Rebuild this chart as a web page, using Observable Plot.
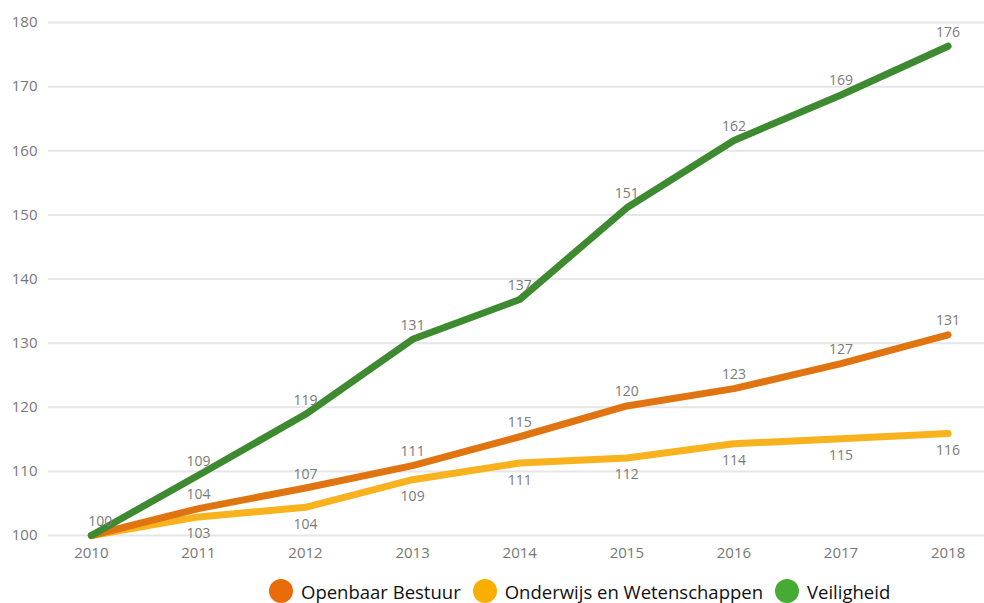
<!DOCTYPE html>
<html>
<head>
<meta charset="utf-8">
<script src="https://cdn.jsdelivr.net/npm/d3@7"></script>
<script src="https://cdn.jsdelivr.net/npm/@observablehq/plot@0.6"></script>
<style>
  body { margin: 0; background: #fff; font-family: "Open Sans", Lato, sans-serif; }
  #wrap { position: relative; width: 984px; height: 603px; }
  #legend { position: absolute; top: 578px; left: 269px; height: 26px; display: flex; align-items: center; font-size: 18.5px; color: #111; white-space: nowrap; }
  .item { display: flex; align-items: center; margin-right: 12px; }
  .dot { width: 24px; height: 24px; border-radius: 50%; margin-right: 8px; }
</style>
</head>
<body>
<div id="wrap"><div id="chart"></div><div id="legend"></div></div>
<script>
const years = [2010, 2011, 2012, 2013, 2014, 2015, 2016, 2017, 2018];
const seriesNames = ["Openbaar Bestuur", "Onderwijs en Wetenschappen", "Veiligheid"];
const openbaarBestuur = [100, 104.2, 107.4, 110.9, 115.4, 120.2, 122.9, 126.8, 131.3];
const onderwijs = [100, 102.9, 104.4, 108.7, 111.3, 112.1, 114.3, 115.1, 115.9];
const veiligheid = [100, 109.4, 118.9, 130.6, 136.8, 151.1, 161.6, 168.7, 176.3];
const lineColors = ["#e07410", "#f8b21e", "#3e8a30"];
const legendColors = ["#e96c0a", "#f9ae00", "#45ab34"];
const yTicks = [100, 110, 120, 130, 140, 150, 160, 170, 180];

const valuesBySeries = [openbaarBestuur, onderwijs, veiligheid];
const data = [];
valuesBySeries.forEach((vals, i) => {
  vals.forEach((v, j) => data.push({ series: seriesNames[i], year: years[j], value: v, idx: i }));
});
const drawOrder = [1, 0, 2];
const ordered = drawOrder.flatMap(i => data.filter(d => d.idx === i));
const fmt = d => String(Math.round(d.value));
const labelStyle = { fill: "#7a7a7a", fontSize: 14 };

const chart = Plot.plot({
  width: 984,
  height: 570,
  marginTop: 22,
  marginBottom: 35,
  marginLeft: 48,
  marginRight: 0,
  style: { fontFamily: "'Open Sans', Lato, sans-serif", fontSize: "15px", color: "#777", background: "#fff" },
  x: { domain: [2009.6, 2018.34], ticks: years, tickFormat: d => String(d), tickSize: 0, tickPadding: 12, label: null },
  y: { domain: [100, 180], ticks: yTicks, tickSize: 0, tickPadding: 11, label: null },
  color: { domain: seriesNames, range: lineColors },
  marks: [
    Plot.ruleY(yTicks, { stroke: "#e6e6e6", strokeWidth: 2 }),
    Plot.line(ordered, { x: "year", y: "value", z: "series", stroke: "series", strokeWidth: 7, strokeLinecap: "round", strokeLinejoin: "round", curve: "linear" }),
    Plot.text(data.filter(d => d.idx === 2 && d.year === 2010), { x: "year", y: "value", text: fmt, dy: -14, dx: 9, ...labelStyle }),
    Plot.text(data.filter(d => d.idx === 2 && d.year !== 2010), { x: "year", y: "value", text: fmt, dy: -14, ...labelStyle }),
    Plot.text(data.filter(d => d.idx === 0 && d.year !== 2010), { x: "year", y: "value", text: fmt, dy: -14, ...labelStyle }),
    Plot.text(data.filter(d => d.idx === 1 && d.year !== 2010), { x: "year", y: "value", text: fmt, dy: 17, ...labelStyle })
  ]
});
document.getElementById("chart").appendChild(chart);

const legend = document.getElementById("legend");
seriesNames.forEach((name, i) => {
  const item = document.createElement("div");
  item.className = "item";
  const dot = document.createElement("span");
  dot.className = "dot";
  dot.style.background = legendColors[i];
  const label = document.createElement("span");
  label.textContent = name;
  item.appendChild(dot);
  item.appendChild(label);
  legend.appendChild(item);
});
</script>
</body>
</html>
